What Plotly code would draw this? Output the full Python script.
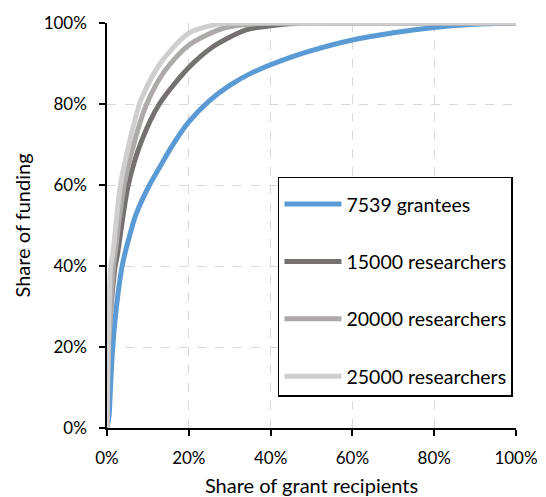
import plotly.graph_objects as go

# Share of grant recipients (%) and share of funding (%) for each series
blue_x = [0, 0.5, 0.9, 1.4, 2, 2.8, 3.8, 5, 7, 9, 10.5, 13, 16, 20, 25, 30, 35, 40, 45, 50, 60, 70, 80, 90, 100]
blue_y = [0, 3, 11, 20, 27, 34, 40.5, 45.5, 52.5, 57.2, 60.2, 64.6, 69.8, 75.6, 80.8, 84.6, 87.5, 89.7, 91.6, 93.2, 95.8, 97.6, 98.9, 99.7, 100]

dark_x = [0, 0.4, 2, 2.5, 5.2, 8.5, 12.8, 20, 26, 34, 40, 47, 60, 80, 100]
dark_y = [0, 22, 40, 42.5, 60, 71, 80, 89, 94.2, 98.3, 99.3, 100, 100, 100, 100]

mid_x = [0, 0.3, 1.6, 1.9, 4.2, 6.8, 9.7, 14, 20, 28.4, 35, 40, 60, 80, 100]
mid_y = [0, 17, 40, 42.5, 60, 71, 80, 88, 94.5, 98.7, 99.7, 100, 100, 100, 100]

light_x = [0, 0.3, 0.9, 1.4, 3.3, 5.6, 8.3, 13, 20, 26, 30, 40, 60, 80, 100]
light_y = [0, 20, 40, 43, 60, 71, 81, 90, 97.5, 99.5, 100, 100, 100, 100, 100]

names = ["7539 grantees", "15000 researchers", "20000 researchers", "25000 researchers"]
colors = ["#5B9BD5", "#767171", "#AEAAAA", "#D0CECE"]

tick_vals = [0, 20, 40, 60, 80, 100]
tick_text = ["0%", "20%", "40%", "60%", "80%", "100%"]

FONT = "Lato"

fig = go.Figure()
series = [(blue_x, blue_y), (dark_x, dark_y), (mid_x, mid_y), (light_x, light_y)]
for i, ((xs, ys), name, col) in enumerate(zip(series, names, colors)):
    fig.add_trace(go.Scatter(
        x=xs, y=ys, mode="lines", name=name,
        line=dict(color=col, width=5, shape="spline", smoothing=0.8),
        legendgroup=f"g{i}",
    ))

axis_common = dict(
    range=[0, 100], tickvals=tick_vals, ticktext=tick_text,
    showgrid=True, gridcolor="#D9D9D9", griddash="dash", gridwidth=1,
    showline=True, linecolor="black", linewidth=1.5,
    ticks="outside", ticklen=6, tickcolor="black", tickwidth=1.5,
    zeroline=False, automargin=False,
    tickfont=dict(family=FONT, size=17, color="black"),
)

fig.update_layout(
    width=546, height=497,
    margin=dict(l=107, r=30, t=23, b=69),
    plot_bgcolor="white", paper_bgcolor="white",
    font=dict(family=FONT, size=17, color="black"),
    xaxis=dict(**axis_common, title=dict(text="Share of grant recipients", font=dict(size=20), standoff=19)),
    yaxis=dict(**axis_common, title=dict(text="Share of funding", font=dict(size=20), standoff=8)),
    legend=dict(
        x=0.418, y=0.62, xanchor="left", yanchor="top",
        bordercolor="black", borderwidth=1.5, bgcolor="white",
        font=dict(family=FONT, size=19.5, color="black"),
        title=dict(text=" ", font=dict(size=5)),
        tracegroupgap=29, itemwidth=57,
    ),
)
fig.update_xaxes(ticklabelstandoff=8)
fig.update_yaxes(ticklabelstandoff=9)

fig.write_html(
    "out.html",
    config={"displayModeBar": False},
    post_script="document.body.style.margin='0';document.body.style.overflow='hidden';",
)
